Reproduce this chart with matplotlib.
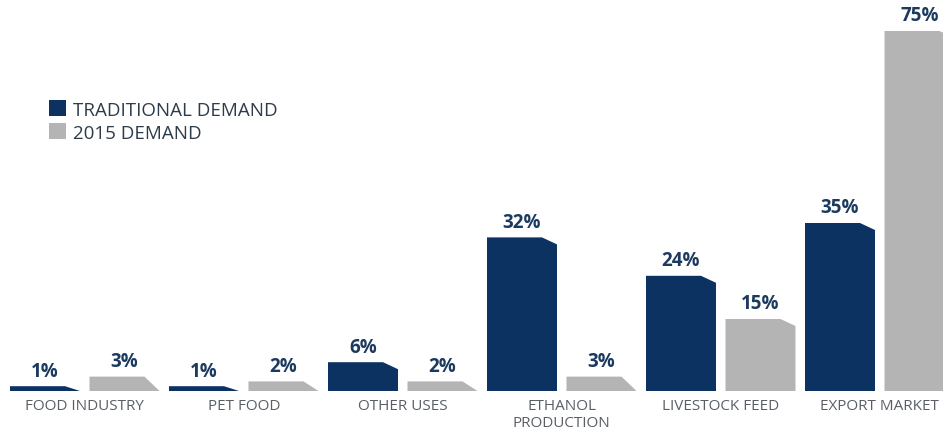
import matplotlib
matplotlib.use('Agg')
import matplotlib.pyplot as plt
from matplotlib.patches import Polygon, Patch

# data
categories = ['FOOD INDUSTRY', 'PET FOOD', 'OTHER USES', 'ETHANOL\nPRODUCTION',
              'LIVESTOCK FEED', 'EXPORT MARKET']
traditional = [1, 1, 6, 32, 24, 35]
demand_2015 = [3, 2, 2, 3, 15, 75]
series_names = ['TRADITIONAL DEMAND', '2015 DEMAND']

navy = '#0b3261'
grey = '#b4b4b4'
label_col = '#1c3a60'
text_col = '#5a5f66'

plt.rcParams['font.family'] = ['Open Sans', 'DejaVu Sans']

fig = plt.figure(figsize=(9.43, 4.35), dpi=100)
ax = fig.add_axes([0, 0, 1, 1])

# one bar every 79.5 px, first bar centre at 45 px, baseline at 392 px, 4.8 px per %
px_unit = 79.5
ax.set_xlim(-45 / px_unit, (943 - 45) / px_unit)
ax.set_ylim(-(435 - 392) / 4.8, 392 / 4.8)
ax.axis('off')

bar_w = 70 / px_unit
cut_x = 15 / px_unit
cut_y = 7 / 4.8


def bevel_bar(x, h, color):
    left = x - bar_w / 2
    right = x + bar_w / 2
    cy = h if h <= 3 else cut_y
    pts = [(left, 0), (left, h), (right - cut_x, h), (right, h - cy), (right, 0)]
    ax.add_patch(Polygon(pts, closed=True, facecolor=color, edgecolor='none'))
    ax.annotate('{}%'.format(h), (x, h), xytext=(0, 4), textcoords='offset points',
                ha='center', va='bottom', fontsize=13.5, fontweight='bold',
                color=label_col)


for i, cat in enumerate(categories):
    x0 = 2 * i
    bevel_bar(x0, traditional[i], navy)
    bevel_bar(x0 + 1, demand_2015[i], grey)
    ax.text(x0 + 0.5, -1.5, cat, ha='center', va='top', fontsize=11,
            color=text_col, linespacing=1.2)

handles = [Patch(facecolor=navy, edgecolor='none'),
           Patch(facecolor=grey, edgecolor='none')]
leg = fig.legend(handles, series_names, loc='upper left',
                 bbox_to_anchor=(40 / 943, 1 - 92 / 435), frameon=False,
                 fontsize=13.5, handlelength=0.9, handleheight=0.9,
                 handletextpad=0.35, labelspacing=0.25, borderpad=0)
for t in leg.get_texts():
    t.set_color('#2e3b4a')

fig.savefig('out.png', dpi=100)
